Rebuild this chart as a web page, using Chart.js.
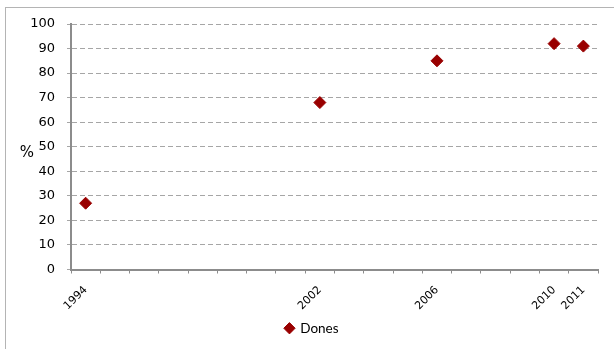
<!DOCTYPE html>
<html>
<head>
<meta charset="utf-8">
<script src="https://cdn.jsdelivr.net/npm/chart.js@4/dist/chart.umd.min.js"></script>
<style>
html,body{margin:0;padding:0;background:#fff;}
canvas{display:block;}
</style>
</head>
<body>
<canvas id="c" width="614" height="349"></canvas>
<script>
// Data
const years = [1994, 2002, 2006, 2010, 2011];
const dones = [27, 68, 85, 92, 91];
const seriesLabel = 'Dones';
const yAxisLabel = '%';
const yTicks = [0, 10, 20, 30, 40, 50, 60, 70, 80, 90, 100];

const xMin = 1993.5, xMax = 2011.5;

const AXIS = '#8c8c8c';
const GRID = '#a6a6a6';
const MARK = '#990000';

const framePlugin = {
  id: 'frameAndTitle',
  beforeDraw(chart) {
    const ctx = chart.ctx;
    ctx.save();
    ctx.strokeStyle = '#b4b4b4';
    ctx.lineWidth = 1;
    ctx.strokeRect(5.5, 7.5, 800, 500);
    ctx.restore();
  },
  afterDraw(chart) {
    const ctx = chart.ctx;
    const a = chart.chartArea;
    ctx.save();
    ctx.fillStyle = '#000';
    ctx.font = '15px "DejaVu Sans"';
    ctx.textAlign = 'center';
    ctx.textBaseline = 'middle';
    ctx.fillText(yAxisLabel, 27, (a.top + a.bottom) / 2 + 6);
    ctx.restore();
  }
};

new Chart(document.getElementById('c'), {
  type: 'scatter',
  data: {
    datasets: [{
      label: seriesLabel,
      data: years.map((y, i) => ({x: y, y: dones[i]})),
      pointStyle: 'rectRot',
      pointRadius: 6,
      pointHoverRadius: 6,
      backgroundColor: MARK,
      borderColor: MARK,
      borderWidth: 1
    }]
  },
  options: {
    responsive: false,
    animation: false,
    events: [],
    layout: {padding: {left: 26, right: 16, top: 24, bottom: 4}},
    plugins: {
      tooltip: {enabled: false},
      legend: {
        position: 'bottom',
        labels: {
          usePointStyle: true,
          boxWidth: 8,
          boxHeight: 8,
          padding: 10,
          color: '#000',
          font: {family: 'Lato', size: 13.5}
        }
      }
    },
    scales: {
      x: {
        type: 'linear',
        min: xMin,
        max: xMax,
        afterBuildTicks(scale) {
          const t = [];
          for (let v = xMin; v <= xMax + 1e-9; v += 1) t.push({value: v});
          years.forEach(y => t.push({value: y}));
          t.sort((a, b) => a.value - b.value);
          scale.ticks = t;
        },
        afterFit(scale) {
          scale.height = 42;
          scale.paddingLeft = 0;
          scale.paddingRight = 0;
        },
        grid: {
          display: true,
          drawOnChartArea: false,
          drawTicks: true,
          tickLength: 4,
          tickWidth: 1,
          tickColor: (ctx) => (ctx.tick && Number.isInteger(ctx.tick.value)) ? 'rgba(0,0,0,0)' : AXIS
        },
        border: {display: true, color: AXIS, width: 2},
        ticks: {
          autoSkip: false,
          minRotation: 45,
          maxRotation: 45,
          padding: 10,
          color: '#000',
          font: {family: 'DejaVu Sans', size: 11},
          callback: (v) => years.includes(v) ? String(v) : ''
        }
      },
      y: {
        min: 0,
        max: 100,
        afterBuildTicks(scale) { scale.ticks = yTicks.map(v => ({value: v})); },
        afterFit(scale) { scale.width = 45; },
        grid: {
          color: (ctx) => (ctx.tick && ctx.tick.value === 0) ? 'rgba(0,0,0,0)' : GRID,
          lineWidth: 1,
          drawTicks: true,
          tickLength: 4,
          tickColor: GRID,
          tickBorderDash: []
        },
        border: {display: true, color: AXIS, width: 2, dash: [5, 3]},
        ticks: {
          padding: 12,
          color: '#000',
          font: {family: 'DejaVu Sans', size: 13}
        }
      }
    }
  },
  plugins: [framePlugin]
});
</script>
</body>
</html>
